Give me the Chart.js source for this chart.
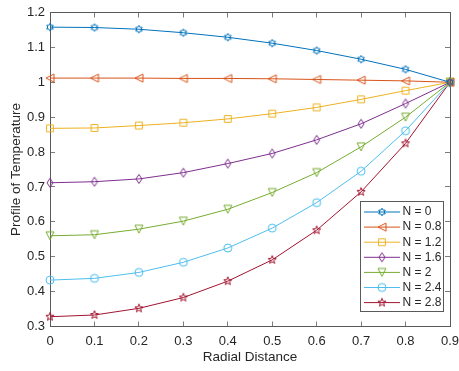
<!DOCTYPE html>
<html>
<head>
<meta charset="utf-8">
<script src="https://cdn.jsdelivr.net/npm/chart.js"></script>
<style>
  body { margin: 0; background: #fff; }
</style>
</head>
<body>
<canvas id="profile" width="459" height="371"></canvas>
<script>
// radial positions and temperature profiles, one array per N
const radialDistance = [0, 0.1, 0.2, 0.3, 0.4, 0.5, 0.6, 0.7, 0.8, 0.9];
const seriesNames = ['N = 0', 'N = 0.8', 'N = 1.2', 'N = 1.6', 'N = 2', 'N = 2.4', 'N = 2.8'];
const tempN0  = [1.158, 1.157, 1.152, 1.142, 1.129, 1.112, 1.091, 1.066, 1.037, 1.0];
const tempN08 = [1.012, 1.012, 1.012, 1.011, 1.011, 1.010, 1.008, 1.006, 1.004, 1.0];
const tempN12 = [0.868, 0.869, 0.876, 0.884, 0.895, 0.910, 0.928, 0.951, 0.976, 1.0];
const tempN16 = [0.712, 0.715, 0.723, 0.741, 0.767, 0.796, 0.835, 0.881, 0.939, 1.0];
const tempN2  = [0.560, 0.563, 0.579, 0.602, 0.636, 0.684, 0.741, 0.815, 0.900, 1.0];
const tempN24 = [0.433, 0.438, 0.455, 0.484, 0.525, 0.582, 0.655, 0.745, 0.861, 1.0];
const tempN28 = [0.328, 0.333, 0.352, 0.383, 0.430, 0.491, 0.576, 0.686, 0.825, 1.0];

const xTicks = [0, 0.1, 0.2, 0.3, 0.4, 0.5, 0.6, 0.7, 0.8, 0.9];
const xTickLabels = ['0', '0.1', '0.2', '0.3', '0.4', '0.5', '0.6', '0.7', '0.8', '0.9'];
const yTicks = [0.3, 0.4, 0.5, 0.6, 0.7, 0.8, 0.9, 1.0, 1.1, 1.2];
const yTickLabels = ['0.3', '0.4', '0.5', '0.6', '0.7', '0.8', '0.9', '1', '1.1', '1.2'];

const profiles = [tempN0, tempN08, tempN12, tempN16, tempN2, tempN24, tempN28];
const colors = ['#0072BD', '#D95319', '#EDB120', '#7E2F8E', '#77AC30', '#4DBEEE', '#A2142F'];
const shapes = ['hexagram', 'triangleLeft', 'square', 'diamond', 'triangleDown', 'circle', 'pentagram'];

const axisColor = '#262626';
const boxColor = '#5a5a5a';
const fontFamily = "'Liberation Sans', Arial, Helvetica, sans-serif";

function starPath(ctx, points, rOut, rIn, rot) {
  ctx.beginPath();
  for (let i = 0; i < points * 2; i++) {
    const r = i % 2 ? rIn : rOut;
    const a = rot + i * Math.PI / points;
    const px = r * Math.sin(a), py = -r * Math.cos(a);
    if (i === 0) ctx.moveTo(px, py); else ctx.lineTo(px, py);
  }
  ctx.closePath();
}

// small canvases used as point styles (and reused by the legend)
function makeMarker(shape, color) {
  const size = 12;
  const c = document.createElement('canvas');
  c.width = size; c.height = size;
  const g = c.getContext('2d');
  g.translate(size / 2, size / 2);
  g.strokeStyle = color;
  g.lineWidth = 1;
  const r = 4;
  switch (shape) {
    case 'hexagram': starPath(g, 6, 3.8, 2.2, 0); break;
    case 'pentagram': starPath(g, 5, 4.3, 1.8, 0); break;
    case 'square': g.beginPath(); g.rect(-3.4, -3.4, 6.8, 6.8); break;
    case 'diamond':
      g.beginPath(); g.moveTo(0, -r - 0.5); g.lineTo(r - 1, 0); g.lineTo(0, r + 0.5); g.lineTo(-r + 1, 0); g.closePath(); break;
    case 'triangleLeft':
      g.beginPath(); g.moveTo(-r, 0); g.lineTo(r, -r); g.lineTo(r, r); g.closePath(); break;
    case 'triangleDown':
      g.beginPath(); g.moveTo(0, r); g.lineTo(-r, -r); g.lineTo(r, -r); g.closePath(); break;
    default: g.beginPath(); g.arc(0, 0, r, 0, Math.PI * 2);
  }
  g.stroke();
  return c;
}

const markers = shapes.map((s, i) => makeMarker(s, colors[i]));

const datasets = profiles.map((vals, i) => ({
  label: seriesNames[i],
  data: radialDistance.map((x, j) => ({ x: x, y: vals[j] })),
  borderColor: colors[i],
  backgroundColor: colors[i],
  borderWidth: 1,
  pointStyle: markers[i],
  pointRadius: 5,
  clip: false
}));

// legend box drawn inside the plot, lower right
const boxLegend = {
  id: 'boxLegend',
  afterDatasetsDraw(chart) {
    const { ctx, chartArea } = chart;
    const w = 83, h = 110, rowH = 15.1;
    const x0 = chartArea.right - 7 - w;
    const y0 = chartArea.bottom - 15.5 - h;
    ctx.save();
    ctx.fillStyle = '#fff';
    ctx.fillRect(x0, y0, w, h);
    ctx.strokeStyle = boxColor;
    ctx.lineWidth = 1;
    ctx.strokeRect(Math.round(x0) + 0.5, Math.round(y0) + 0.5, w, h);
    ctx.font = '12px ' + fontFamily;
    ctx.textBaseline = 'middle';
    chart.data.datasets.forEach((ds, i) => {
      const y = y0 + 11 + i * rowH;
      ctx.strokeStyle = ds.borderColor;
      ctx.beginPath();
      ctx.moveTo(x0 + 4, y);
      ctx.lineTo(x0 + 40, y);
      ctx.stroke();
      const m = markers[i];
      ctx.drawImage(m, x0 + 22 - m.width / 2, y - m.height / 2);
      ctx.fillStyle = axisColor;
      ctx.fillText(ds.label, x0 + 42.5, y);
    });
    ctx.restore();
  }
};

const tickGrid = { drawOnChartArea: false, tickLength: -5, color: boxColor, lineWidth: 0.8 };
const axisBorder = { color: boxColor, width: 1 };

// keep the plot box fixed: no extra room for overhanging end labels
function noOverhang(s) {
  s.paddingLeft = 0; s.paddingRight = 0; s.paddingTop = 0; s.paddingBottom = 0;
}

new Chart(document.getElementById('profile'), {
  type: 'line',
  data: { datasets: datasets },
  options: {
    responsive: false,
    animation: false,
    events: [],
    layout: { padding: { left: 0, right: 9, top: 12.5, bottom: 0 } },
    plugins: { legend: { display: false }, tooltip: { enabled: false } },
    scales: {
      x: {
        type: 'linear', position: 'bottom', min: 0, max: 0.9,
        afterBuildTicks: s => { s.ticks = xTicks.map(v => ({ value: v })); },
        afterFit: s => { s.height = 44.5; noOverhang(s); },
        grid: tickGrid, border: axisBorder,
        ticks: {
          color: axisColor, font: { family: fontFamily, size: 13 }, padding: 12,
          maxRotation: 0, autoSkip: false,
          callback: (v, i) => xTickLabels[i]
        },
        title: { display: true, text: 'Radial Distance', color: axisColor, font: { family: fontFamily, size: 13.5 }, padding: 6 }
      },
      y: {
        type: 'linear', position: 'left', min: 0.3, max: 1.2,
        afterBuildTicks: s => { s.ticks = yTicks.map(v => ({ value: v })); },
        afterFit: s => { s.width = 50; noOverhang(s); },
        grid: tickGrid, border: axisBorder,
        ticks: {
          color: axisColor, font: { family: fontFamily, size: 13 }, padding: 10,
          autoSkip: false,
          callback: (v, i) => yTickLabels[i]
        },
        title: { display: true, text: 'Profile of Temperature', color: axisColor, font: { family: fontFamily, size: 13.5 }, padding: 8 }
      },
      xTop: {
        type: 'linear', position: 'top', min: 0, max: 0.9,
        afterBuildTicks: s => { s.ticks = xTicks.map(v => ({ value: v })); },
        afterFit: s => { s.height = 0; noOverhang(s); },
        grid: tickGrid, border: axisBorder,
        ticks: { display: false }
      },
      yRight: {
        type: 'linear', position: 'right', min: 0.3, max: 1.2,
        afterBuildTicks: s => { s.ticks = yTicks.map(v => ({ value: v })); },
        afterFit: s => { s.width = 0; noOverhang(s); },
        grid: tickGrid, border: axisBorder,
        ticks: { display: false }
      }
    }
  },
  plugins: [boxLegend]
});
</script>
</body>
</html>
